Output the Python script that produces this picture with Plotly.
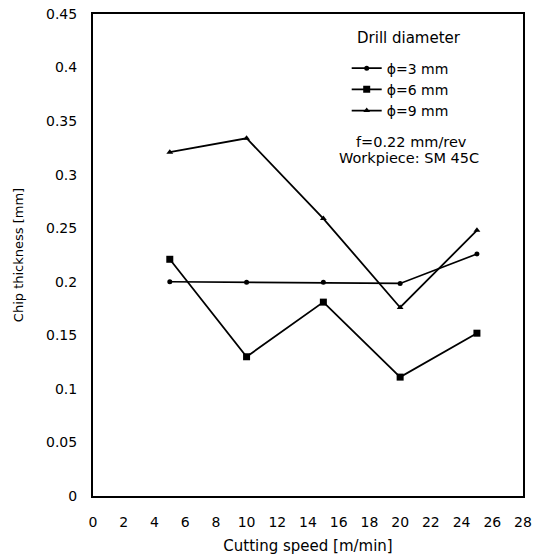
import plotly.graph_objects as go

speed = [5, 10, 15, 20, 25]
d3_thickness = [0.200, 0.1995, 0.1995, 0.1985, 0.226]
d6_thickness = [0.221, 0.130, 0.181, 0.111, 0.152]
d9_thickness = [0.321, 0.334, 0.259, 0.176, 0.248]
series_names = ["ϕ=3 mm", "ϕ=6 mm", "ϕ=9 mm"]
x_ticks = list(range(0, 29, 2))
y_ticks = [0, 0.05, 0.1, 0.15, 0.2, 0.25, 0.3, 0.35, 0.4, 0.45]
y_tick_text = ["0", "0.05", "0.1", "0.15", "0.2", "0.25", "0.3", "0.35", "0.4", "0.45"]

FONT = "DejaVu Sans"

fig = go.Figure()
fig.add_trace(go.Scatter(x=speed, y=d3_thickness, name=series_names[0], mode="lines+markers",
                         line=dict(color="black", width=1.6),
                         marker=dict(symbol="circle", size=5, color="black")))
fig.add_trace(go.Scatter(x=speed, y=d6_thickness, name=series_names[1], mode="lines+markers",
                         line=dict(color="black", width=1.8),
                         marker=dict(symbol="square", size=7, color="black")))
fig.add_trace(go.Scatter(x=speed, y=d9_thickness, name=series_names[2], mode="lines+markers",
                         line=dict(color="black", width=1.8),
                         marker=dict(symbol="triangle-up", size=6, color="black")))

fig.update_layout(
    width=550, height=558,
    margin=dict(l=93, r=27, t=14, b=62),
    paper_bgcolor="white", plot_bgcolor="white",
    font=dict(family=FONT, size=14, color="black"),
    showlegend=True,
    legend=dict(x=0.59, y=0.920, xanchor="left", yanchor="top",
                bgcolor="rgba(0,0,0,0)", font=dict(size=14, family=FONT),
                itemwidth=30, tracegroupgap=0),
    xaxis=dict(range=[0, 28], tickvals=x_ticks, showgrid=False, zeroline=False,
               showline=True, linecolor="black", linewidth=2, mirror=True, automargin=False,
               ticks="", ticklabelstandoff=12, tickfont=dict(size=14, family=FONT),
               title=dict(text="Cutting speed [m/min]", font=dict(size=15, family=FONT), standoff=12)),
    yaxis=dict(range=[0, 0.45], tickvals=y_ticks, ticktext=y_tick_text, showgrid=False, zeroline=False,
               showline=True, linecolor="black", linewidth=2, mirror=True, automargin=False,
               ticks="", ticklabelstandoff=11, tickfont=dict(size=14, family=FONT),
               title=dict(text="Chip thickness [mm]", font=dict(size=13, family=FONT), standoff=19)),
    annotations=[
        dict(text="Drill diameter", xref="paper", yref="paper", x=0.735, y=0.951,
             showarrow=False, font=dict(size=15, family=FONT), xanchor="center", yanchor="middle"),
        dict(text="f=0.22 mm/rev", xref="paper", yref="paper", x=0.74, y=0.734,
             showarrow=False, font=dict(size=14.5, family=FONT), xanchor="center", yanchor="middle"),
        dict(text="Workpiece: SM 45C", xref="paper", yref="paper", x=0.735, y=0.701,
             showarrow=False, font=dict(size=14.5, family=FONT), xanchor="center", yanchor="middle"),
    ],
)

fig.write_html("out.html")
